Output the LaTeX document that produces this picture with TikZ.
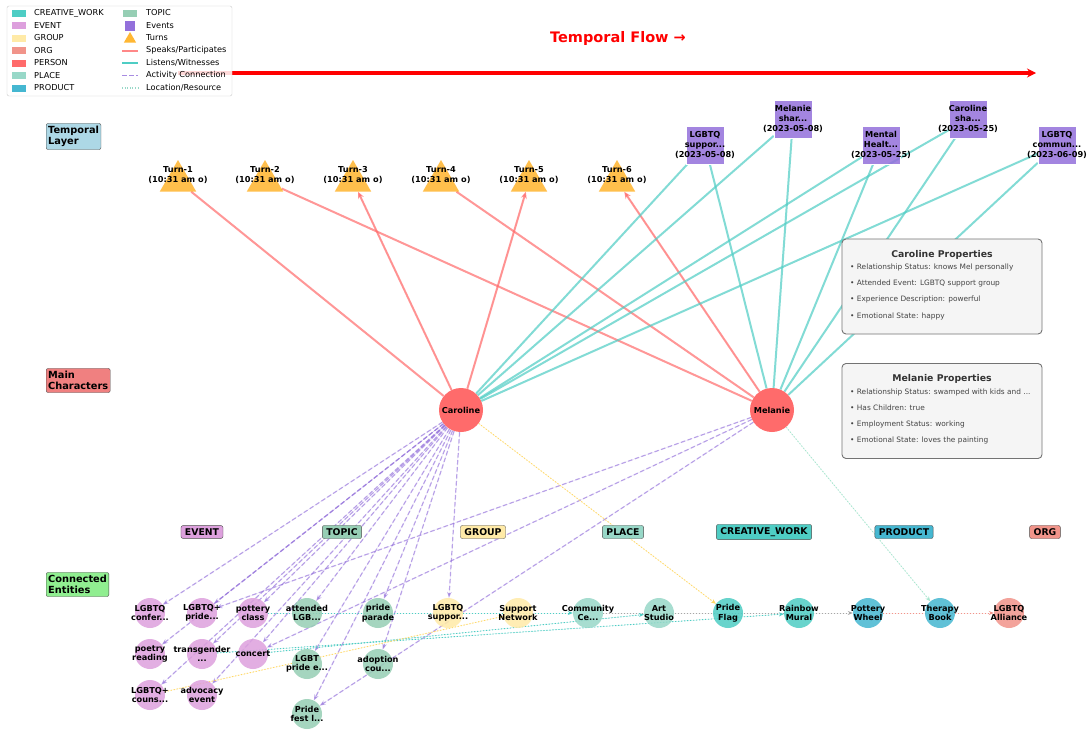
\documentclass[tikz,border=0pt]{standalone}
\usepackage{fontspec}
\setmainfont{DejaVu Sans}
\usetikzlibrary{shapes.geometric,arrows.meta,backgrounds}
\definecolor{cCW}{HTML}{4ECDC4}
\definecolor{cEV}{HTML}{DDA0DD}
\definecolor{cGR}{HTML}{FFEAA7}
\definecolor{cORG}{HTML}{F1948A}
\definecolor{cPER}{HTML}{FF6B6B}
\definecolor{cPL}{HTML}{98D8C8}
\definecolor{cPR}{HTML}{45B7D1}
\definecolor{cTO}{HTML}{96CEB4}
\definecolor{cEvt}{HTML}{9370DB}
\definecolor{cTurn}{HTML}{FFA500}
\definecolor{cTxt}{HTML}{444444}
\definecolor{cYel}{HTML}{FFD966}
\definecolor{cMint}{HTML}{A8E6CF}
\definecolor{cLB}{HTML}{ADD8E6}
\definecolor{cLC}{HTML}{F08080}
\definecolor{cLG}{HTML}{90EE90}
\begin{document}
\begin{tikzpicture}[x=1pt,y=-1pt,
  lab/.style={font=\fontsize{8.2}{9.6}\selectfont\bfseries, align=center, inner sep=0pt},
  ent/.style={circle, minimum size=30pt, inner sep=0pt, fill=#1, fill opacity=0.85, draw=none},
  person/.style={circle, minimum size=44pt, inner sep=0pt, fill=cPER, draw=none, font=\fontsize{8.2}{9.6}\selectfont\bfseries},
  turn/.style={regular polygon, regular polygon sides=3, minimum size=42pt, inner sep=0pt, fill=cTurn, fill opacity=0.7, draw=none},
  evbox/.style={rectangle, minimum width=38pt, minimum height=38pt, inner sep=0pt, fill=cEvt, fill opacity=0.85, draw=white, line width=0.5pt},
  spk/.style={draw=cPER, draw opacity=0.7, line width=2pt},
  tip/.style={-{Stealth[length=7pt,width=6pt]}, fill=cPER, fill opacity=0.7},
  lis/.style={draw=cCW, draw opacity=0.7, line width=2pt},
  act/.style={draw=cEvt, draw opacity=0.6, fill=cEvt, fill opacity=0.6, line width=1.2pt, dash pattern=on 4.5pt off 2.5pt, -{Stealth[length=6pt,width=4.5pt]}},
  loc/.style={draw=#1, fill=#1, line width=0.9pt, dash pattern=on 1.2pt off 1.8pt, -{Stealth[length=5pt,width=4pt]}},
  catlab/.style={draw=black!70, rounded corners=2pt, font=\fontsize{9.3}{11}\selectfont\bfseries, inner xsep=4pt, inner ysep=3pt, fill=#1},
  laylab/.style={draw=black!70, rounded corners=2pt, font=\fontsize{9.8}{11.5}\selectfont\bfseries, align=left, inner xsep=2pt, inner ysep=2.5pt, anchor=west, fill=#1},
  propbox/.style={draw=black!55, fill=black!4, rounded corners=4pt, line width=0.9pt, minimum width=200pt, minimum height=95pt, inner sep=0pt},
  ptitle/.style={font=\fontsize{9.3}{11}\selectfont\bfseries, text=black!80, inner sep=0pt},
  pitem/.style={font=\fontsize{7.4}{9}\selectfont, text=cTxt, anchor=west, inner sep=0pt},
  lgtext/.style={font=\fontsize{8.2}{9.6}\selectfont, anchor=west, inner sep=0pt},
  lgpatch/.style={rectangle, minimum width=14pt, minimum height=7pt, inner sep=0pt, fill=#1}
]
\useasboundingbox (0,0) rectangle (1088,731);

% temporal flow
\node[font=\fontsize{14.5}{17}\selectfont\bfseries, text=red] (title) at (618,38) {Temporal Flow →};
\coordinate (tfa) at (178,73);
\coordinate (tfb) at (1036,73);
\draw[red, line width=3.2pt, -{Stealth[length=9pt,width=9pt]}] (tfa) -- (tfb);

% layer labels
\node[laylab=cLB] (lyT) at (46,136.5) {Temporal\\Layer};
\node[laylab=cLC] (lyM) at (46,380.5) {Main\\Characters};
\node[laylab=cLG] (lyC) at (46,584.5) {Connected\\Entities};

% turns
\foreach \i/\x in {1/178,2/265,3/353,4/441,5/529,6/617}{
  \node[turn] (t\i) at (\x,181) {};
  \node[lab] (t\i l) at (\x,175) {Turn-\i\\(10:31 am o)};
}

% events
\node[evbox] (e1) at (705,145) {};
\node[evbox] (e2) at (793,119) {};
\node[evbox] (e3) at (881,145) {};
\node[evbox] (e4) at (968,119) {};
\node[evbox] (e5) at (1057,145) {};
\node[lab] (e1l) at (e1) {LGBTQ\\suppor...\\(2023-05-08)};
\node[lab] (e2l) at (e2) {Melanie\\shar...\\(2023-05-08)};
\node[lab] (e3l) at (e3) {Mental\\Healt...\\(2023-05-25)};
\node[lab] (e4l) at (e4) {Caroline\\sha...\\(2023-05-25)};
\node[lab] (e5l) at (e5) {LGBTQ\\commun...\\(2023-06-09)};

% characters
\node[person] (car) at (461,410) {Caroline};
\node[person] (mel) at (772,410) {Melanie};

% category labels
\node[catlab=cEV] (kEV) at (202,532) {EVENT};
\node[catlab=cTO] (kTO) at (342,532) {TOPIC};
\node[catlab=cGR] (kGR) at (483,532) {GROUP};
\node[catlab=cPL] (kPL) at (623,532) {PLACE};
\node[catlab=cCW] (kCW) at (764,532) {CREATIVE\_WORK};
\node[catlab=cPR] (kPR) at (904,532) {PRODUCT};
\node[catlab=cORG] (kOR) at (1045,532) {ORG};

% entities
\node[ent=cEV] (n1) at (150,613) {};
\node[ent=cEV] (n2) at (202,613) {};
\node[ent=cEV] (n3) at (253,613) {};
\node[ent=cTO] (n4) at (307,613) {};
\node[ent=cTO] (n5) at (378,613) {};
\node[ent=cGR] (n6) at (448,613) {};
\node[ent=cGR] (n7) at (518,613) {};
\node[ent=cPL] (n8) at (588,613) {};
\node[ent=cPL] (n9) at (659,613) {};
\node[ent=cCW] (n10) at (728,613) {};
\node[ent=cCW] (n11) at (799,613) {};
\node[ent=cPR] (n12) at (868,613) {};
\node[ent=cPR] (n13) at (940,613) {};
\node[ent=cORG] (n14) at (1009,613) {};
\node[ent=cEV] (n15) at (150,654) {};
\node[ent=cEV] (n16) at (202,654) {};
\node[ent=cEV] (n17) at (253,654) {};
\node[ent=cTO] (n18) at (307,664) {};
\node[ent=cTO] (n19) at (378,664) {};
\node[ent=cEV] (n20) at (150,695) {};
\node[ent=cEV] (n21) at (202,695) {};
\node[ent=cTO] (n22) at (307,714) {};

\node[lab] (n1l) at (n1) {LGBTQ\\confer...};
\node[lab] (n2l) at (n2) {LGBTQ+\\pride...};
\node[lab] (n3l) at (n3) {pottery\\class};
\node[lab] (n4l) at (n4) {attended\\LGB...};
\node[lab] (n5l) at (n5) {pride\\parade};
\node[lab] (n6l) at (n6) {LGBTQ\\suppor...};
\node[lab] (n7l) at (n7) {Support\\Network};
\node[lab] (n8l) at (n8) {Community\\Ce...};
\node[lab] (n9l) at (n9) {Art\\Studio};
\node[lab] (n10l) at (n10) {Pride\\Flag};
\node[lab] (n11l) at (n11) {Rainbow\\Mural};
\node[lab] (n12l) at (n12) {Pottery\\Wheel};
\node[lab] (n13l) at (n13) {Therapy\\Book};
\node[lab] (n14l) at (n14) {LGBTQ\\Alliance};
\node[lab] (n15l) at (n15) {poetry\\reading};
\node[lab] (n16l) at (n16) {transgender\\...};
\node[lab] (n17l) at (n17) {concert};
\node[lab] (n18l) at (n18) {LGBT\\pride e...};
\node[lab] (n19l) at (n19) {adoption\\cou...};
\node[lab] (n20l) at (n20) {LGBTQ+\\couns...};
\node[lab] (n21l) at (n21) {advocacy\\event};
\node[lab] (n22l) at (n22) {Pride\\fest l...};

% edges on background
\begin{pgfonlayer}{background}
  \fill[white] (0,0) rectangle (1088,731);
  \draw[spk] (t1) -- (car);
  \draw[spk] (t2) -- (mel);
  \draw[spk,tip] (car) -- (t3);
  \draw[spk] (t4) -- (mel);
  \draw[spk,tip] (car) -- (t5);
  \draw[spk,tip] (mel) -- (t6);
  \foreach \e in {e1,e2,e3,e4,e5}{
    \draw[lis] (car) -- (\e);
    \draw[lis] (mel) -- (\e);
  }
  \foreach \n in {n1,n2,n3,n4,n5,n6,n15,n16,n17,n18,n19,n20,n21,n22}{
    \draw[act] (car) -- (\n);
  }
  \draw[act] (mel) -- (n2);
  \draw[act] (mel) -- (n17);
  \draw[act] (mel) -- (n22);
  \draw[loc=cYel] (car) -- (n10);
  \draw[loc=cMint] (mel) -- (n13);
  \draw[loc=cCW] (n3) -- (n8);
  \draw[loc=black!35] (n8) -- (n12);
  \draw[loc=cORG] (n12) -- (n14);
  \draw[loc=cCW] (n16) -- (n11);
  \draw[loc=cCW] (n17) -- (n9);
  \draw[loc=cYel] (n20) -- (n7);
\end{pgfonlayer}

% property boxes
\node[propbox] (cp) at (942,286.5) {};
\node[ptitle] (cpt) at (942,255) {Caroline Properties};
\node[pitem] (cp1) at (850,267) {• Relationship Status: knows Mel personally};
\node[pitem] (cp2) at (850,283) {• Attended Event: LGBTQ support group};
\node[pitem] (cp3) at (850,299) {• Experience Description: powerful};
\node[pitem] (cp4) at (850,316) {• Emotional State: happy};
\node[propbox] (mp) at (942,411) {};
\node[ptitle] (mpt) at (942,379) {Melanie Properties};
\node[pitem] (mp1) at (850,392) {• Relationship Status: swamped with kids and ...};
\node[pitem] (mp2) at (850,408) {• Has Children: true};
\node[pitem] (mp3) at (850,424) {• Employment Status: working};
\node[pitem] (mp4) at (850,440) {• Emotional State: loves the painting};

% legend
\node[draw=black!20, fill=white, fill opacity=0.85, rounded corners=2pt, minimum width=225pt, minimum height=90pt, inner sep=0pt] (lgbox) at (119.5,51) {};
\node[lgpatch=cCW] (lp1) at (19,13) {};
\node[lgpatch=cEV] (lp2) at (19,25.5) {};
\node[lgpatch=cGR] (lp3) at (19,38) {};
\node[lgpatch=cORG] (lp4) at (19,50.5) {};
\node[lgpatch=cPER] (lp5) at (19,63) {};
\node[lgpatch=cPL] (lp6) at (19,75.5) {};
\node[lgpatch=cPR] (lp7) at (19,88) {};
\node[lgtext] (lt1) at (34,13) {CREATIVE\_WORK};
\node[lgtext] (lt2) at (34,25.5) {EVENT};
\node[lgtext] (lt3) at (34,38) {GROUP};
\node[lgtext] (lt4) at (34,50.5) {ORG};
\node[lgtext] (lt5) at (34,63) {PERSON};
\node[lgtext] (lt6) at (34,75.5) {PLACE};
\node[lgtext] (lt7) at (34,88) {PRODUCT};
\node[lgpatch=cTO] (lp8) at (130,13) {};
\node[rectangle, minimum size=10pt, inner sep=0pt, fill=cEvt] (lp9) at (130,25.5) {};
\node[regular polygon, regular polygon sides=3, minimum size=14pt, inner sep=0pt, fill=cTurn, fill opacity=0.8] (lp10) at (130,39) {};
\draw[cPER, opacity=0.8, line width=2pt] (122,50.5) -- (138,50.5);
\draw[cCW, line width=2pt] (122,63) -- (138,63);
\draw[cEvt, opacity=0.8, line width=1.6pt, dash pattern=on 4.5pt off 2.5pt] (122,75.5) -- (138,75.5);
\draw[cPL, line width=1.2pt, dash pattern=on 1pt off 1.6pt] (122,88) -- (138,88);
\node[lgtext] (lt8) at (146,13) {TOPIC};
\node[lgtext] (lt9) at (146,25.5) {Events};
\node[lgtext] (lt10) at (146,38) {Turns};
\node[lgtext] (lt11) at (146,50.5) {Speaks/Participates};
\node[lgtext] (lt12) at (146,63) {Listens/Witnesses};
\node[lgtext] (lt13) at (146,75.5) {Activity Connection};
\node[lgtext] (lt14) at (146,88) {Location/Resource};
\end{tikzpicture}
\end{document}
